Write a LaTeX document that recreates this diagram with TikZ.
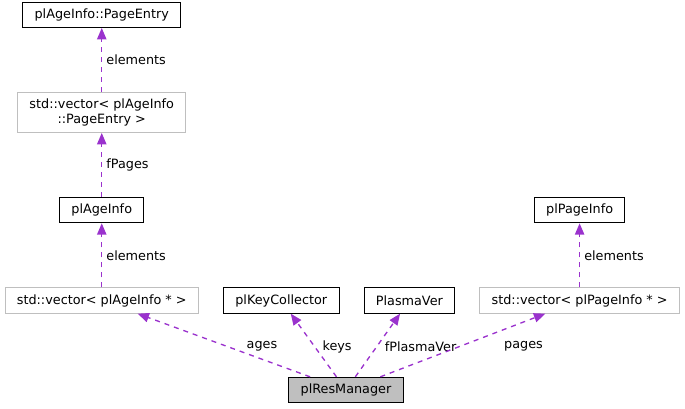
\documentclass[tikz,border=0pt]{standalone}
\usepackage{fontspec}
\setmainfont{DejaVu Sans}
\usetikzlibrary{positioning, arrows.meta}
\definecolor{relcol}{HTML}{9A32CD}
\definecolor{vecgrey}{HTML}{BFBFBF}

\begin{document}
\begin{tikzpicture}[x=0.75pt, y=-0.75pt, node distance={48pt}, font=\fontsize{9.6pt}{11.25pt}\selectfont,
    cls/.style = {draw, line width=0.75pt, inner xsep=8.9pt, inner ysep=0pt, minimum height=19pt, align=center},
    vec/.style = {cls, draw=vecgrey},
    main/.style = {cls, fill=vecgrey},
    rel/.style = {color=relcol, line width=1pt, dash pattern=on 3.75pt off 3.75pt, -{Triangle[length=8.5pt, width=7pt]}},
    lbl/.style = {inner sep=1pt, anchor=west, text=black}]
            \useasboundingbox (0,0) rectangle (685,409);
            \node[vec, anchor=west] (vecages) at (4.5,300.5) {std::vector< plAgeInfo * >};
            \node[cls] (ageinfo) [above=of vecages] {plAgeInfo};
            \node[vec, minimum height=30pt] (vecentries) [above=of ageinfo] {std::vector< plAgeInfo\\::PageEntry >};
            \node[cls] (pageentry) [above=of vecentries] {plAgeInfo::PageEntry};
            \node[cls] (keycol) [right=18pt of vecages] {plKeyCollector};
            \node[cls] (plasmaver) [right=18pt of keycol] {PlasmaVer};
            \node[vec] (vecpages) [right=18pt of plasmaver] {std::vector< plPageInfo * >};
            \node[cls] (pageinfo) [above=of vecpages] {plPageInfo};
            \node[main] (resmgr) at (346,390) {plResManager};

            \draw[rel] (vecentries) -- node[lbl, pos=0.5, xshift=2pt] {elements} (pageentry);
            \draw[rel] (ageinfo) -- node[lbl, pos=0.5, xshift=2pt] {fPages} (vecentries);
            \draw[rel] (vecages) -- node[lbl, pos=0.5, xshift=2pt] {elements} (ageinfo);
            \draw[rel] (vecpages) -- node[lbl, pos=0.5, xshift=2pt] {elements} (pageinfo);
            \draw[rel] (resmgr) -- node[lbl, pos=0.48, xshift=13pt] {ages} (vecages);
            \draw[rel] (resmgr) -- node[lbl, pos=0.48, xshift=4.5pt] {keys} (keycol);
            \draw[rel] (resmgr) -- node[lbl, pos=0.48, xshift=4.5pt] {fPlasmaVer} (plasmaver);
            \draw[rel] (resmgr) -- node[lbl, pos=0.48, xshift=32pt] {pages} (vecpages);
        \end{tikzpicture}
\end{document}
